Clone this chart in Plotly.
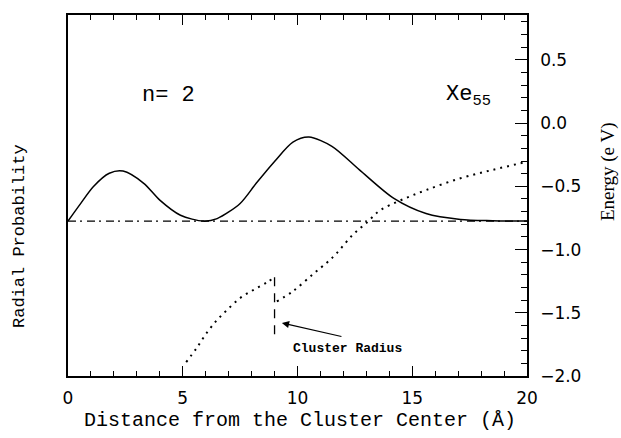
import plotly.graph_objects as go

# ---- data ----
# radial probability (arbitrary units, second peak = 1)
rp_x = [0, 0.5, 1.1, 1.8, 2.4, 3.3, 4.0, 4.9, 5.9, 6.5, 7.5, 8.2, 9.0, 9.8, 10.5, 11.5, 12.7, 14.2, 15.6, 17.1, 18.5, 20.0]
rp_y = [0, 0.19, 0.41, 0.57, 0.595, 0.45, 0.25, 0.07, 0.0, 0.03, 0.21, 0.45, 0.71, 0.94, 1.0, 0.89, 0.61, 0.27, 0.09, 0.02, 0.005, 0.0]

# potential energy (eV), inside and outside the cluster
pot_x_in = [5.15, 5.6, 6.04, 6.48, 6.92, 7.49, 8.07, 8.66, 9.0]
pot_e_in = [-1.89, -1.78, -1.66, -1.56, -1.48, -1.385, -1.32, -1.26, -1.22]
pot_x_out = [9.1, 9.8, 10.7, 11.3, 11.7, 12.4, 13.0, 13.6, 14.5, 15.6, 17.1, 18.5, 19.9]
pot_e_out = [-1.41, -1.33, -1.19, -1.10, -1.03, -0.885, -0.79, -0.69, -0.61, -0.53, -0.436, -0.37, -0.31]

# eigen-energy level and cluster radius
e_level = -0.775
level_x = [0, 20]
r_cluster = 9.0
radius_e = [-1.22, -1.70]

x_ticks = [0, 5, 10, 15, 20]
e_range = [-2.0, 0.855]
rp_unit = 0.6646  # eV per radial-probability unit on screen

rp_range = [(e_range[0] - e_level) / rp_unit, (e_range[1] - e_level) / rp_unit]

mono = "Liberation Mono"
sans = "DejaVu Sans"

fig = go.Figure()

fig.add_trace(go.Scatter(x=rp_x, y=rp_y, mode="lines", yaxis="y",
                         line=dict(color="black", width=1.5, shape="spline", smoothing=0.8),
                         showlegend=False, hoverinfo="skip"))
fig.add_trace(go.Scatter(x=level_x, y=[e_level] * len(level_x), mode="lines", yaxis="y2",
                         line=dict(color="black", width=1.3, dash="8px,4px,2px,5px"),
                         showlegend=False, hoverinfo="skip"))
fig.add_trace(go.Scatter(x=pot_x_in, y=pot_e_in, mode="lines", yaxis="y2",
                         line=dict(color="black", width=2, dash="2px,5px", shape="spline"),
                         showlegend=False, hoverinfo="skip"))
fig.add_trace(go.Scatter(x=pot_x_out, y=pot_e_out, mode="lines", yaxis="y2",
                         line=dict(color="black", width=2, dash="2px,5px", shape="spline"),
                         showlegend=False, hoverinfo="skip"))
fig.add_trace(go.Scatter(x=[r_cluster] * len(radius_e), y=radius_e, mode="lines", yaxis="y2",
                         line=dict(color="black", width=1.3, dash="9px,7px"),
                         showlegend=False, hoverinfo="skip"))

fig.update_layout(
    width=621, height=438,
    margin=dict(l=68, r=94, t=15, b=62),
    paper_bgcolor="white", plot_bgcolor="white",
    xaxis=dict(range=[0, 20], tickvals=x_ticks, ticks="inside", ticklen=10, tickwidth=1.3,
               tickcolor="black", showline=True, linecolor="black", linewidth=1.5,
               mirror="ticks", showgrid=False, zeroline=False,
               minor=dict(ticks="inside", ticklen=5, dtick=1, tick0=0, tickcolor="black", tickwidth=1.2),
               tickfont=dict(family=sans, size=17, color="black"), ticklabelstandoff=6),
    yaxis=dict(range=rp_range, showline=True, linecolor="black", linewidth=1.5,
               ticks="", showticklabels=False, showgrid=False, zeroline=False),
    yaxis2=dict(range=e_range, overlaying="y", side="right", anchor="x",
                dtick=0.5, tick0=0, tickformat=".1f", ticks="inside", ticklen=12, tickwidth=1.3,
                tickcolor="black", showline=True, linecolor="black", linewidth=1.5,
                showgrid=False, zeroline=False,
                minor=dict(ticks="inside", ticklen=6, dtick=0.1, tick0=0, tickcolor="black", tickwidth=1.2),
                tickfont=dict(family=sans, size=17, color="black"), ticklabelstandoff=8),
)

annotations = [
    dict(text="Distance from the Cluster Center (Å)", xref="paper", yref="paper",
         x=(300 - 68) / 459, y=(376 - 421) / 361, showarrow=False,
         font=dict(family=mono, size=20, color="black"), xanchor="center", yanchor="middle"),
    dict(text="Radial Probability", xref="paper", yref="paper",
         x=(20 - 68) / 459, y=(376 - 236) / 361, showarrow=False, textangle=-90,
         font=dict(family=mono, size=17, color="black"), xanchor="center", yanchor="middle"),
    dict(text="Energy (e V)", xref="paper", yref="paper",
         x=(608 - 68) / 459, y=(376 - 172) / 361, showarrow=False, textangle=-90,
         font=dict(family="Liberation Serif", size=19, color="black"), xanchor="center", yanchor="middle"),
    dict(text="n= 2", xref="x", yref="y2", x=4.4, y=0.215, showarrow=False,
         font=dict(family=mono, size=22, color="black"), xanchor="center", yanchor="middle"),
    dict(text="Xe<sub>55</sub>", xref="x", yref="y2",
         x=17.45, y=0.215, showarrow=False,
         font=dict(family=mono, size=22, color="black"), xanchor="center", yanchor="middle"),
    dict(text="<b>Cluster Radius</b>", xref="x", yref="y2", x=12.18, y=-1.78, showarrow=False,
         font=dict(family=mono, size=13, color="black"), xanchor="center", yanchor="middle"),
    dict(text="", xref="x", yref="y2", x=9.32, y=-1.581, ax=11.98, ay=-1.69,
         axref="x", ayref="y2", showarrow=True, arrowhead=2, arrowsize=1.2,
         arrowwidth=1.2, arrowcolor="black"),
]
fig.update_layout(annotations=annotations)

fig.write_html("out.html")
